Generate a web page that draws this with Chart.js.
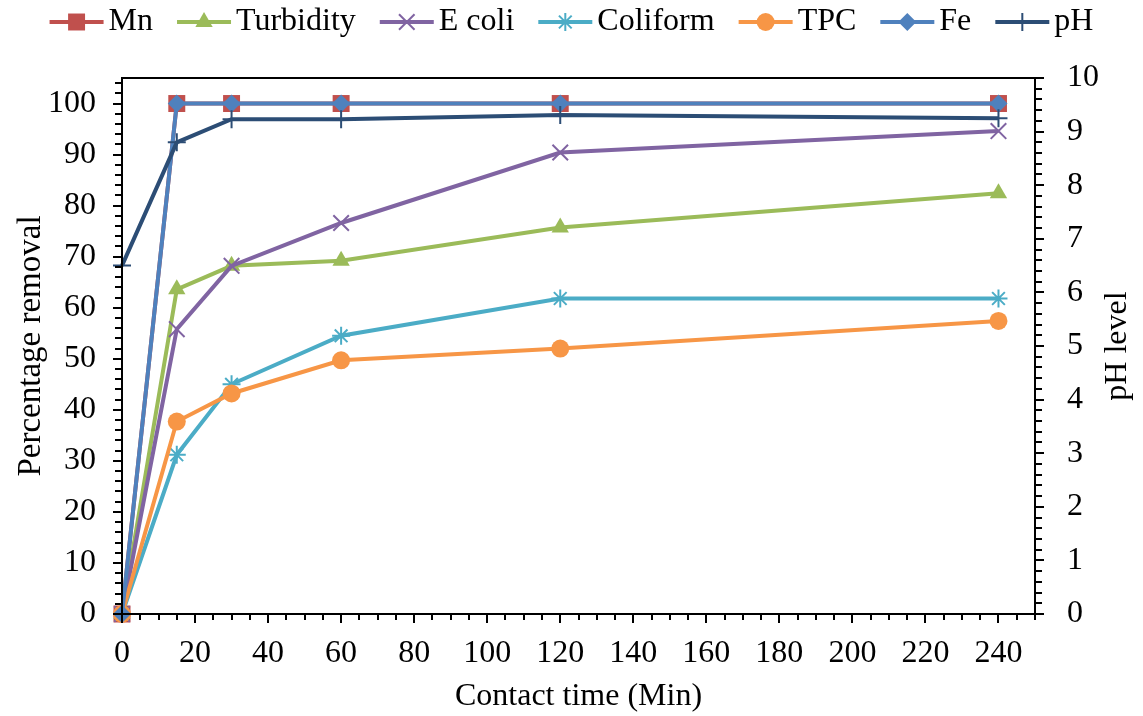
<!DOCTYPE html>
<html>
<head>
<meta charset="utf-8">
<script src="https://cdn.jsdelivr.net/npm/chart.js@4.4.1/dist/chart.umd.min.js"></script>
<style>
  html, body { margin: 0; padding: 0; background: #fff; }
  #wrap { width: 1143px; height: 716px; }
</style>
</head>
<body>
<div id="wrap"><canvas id="chart"></canvas></div>
<script>
// contact time (min) and percentage removal per parameter
const contactTime = [0, 15, 30, 60, 120, 240];
const mn = [0, 100, 100, 100, 100, 100];
const turbidity = [0, 63.6, 68.2, 69.2, 75.7, 82.4];
const eColi = [0, 55.8, 68.2, 76.6, 90.4, 94.6];
const coliform = [0, 31.2, 45.0, 54.5, 61.8, 61.8];
const tpc = [0, 37.7, 43.2, 49.7, 52.0, 57.4];
const fe = [0, 100, 100, 100, 100, 100];
// pH on the right axis
const ph = [6.5, 8.8, 9.23, 9.23, 9.31, 9.25];

// tick labels
const xTicks = [0, 20, 40, 60, 80, 100, 120, 140, 160, 180, 200, 220, 240];
const yTicks = [0, 10, 20, 30, 40, 50, 60, 70, 80, 90, 100];
const y2Ticks = [0, 1, 2, 3, 4, 5, 6, 7, 8, 9, 10];

const xTitle = 'Contact time (Min)';
const yTitle = 'Percentage removal';
const y2Title = 'pH level';

const FONT = 'Liberation Serif';
const FS = 32;

const toPoints = vals => vals.map((v, i) => ({ x: contactTime[i], y: v }));

function series(label, vals, color, style, radius, order, axis) {
    return {
        label: label,
        data: toPoints(vals),
        borderColor: color,
        backgroundColor: color,
        pointBackgroundColor: color,
        pointBorderColor: color,
        pointStyle: style,
        pointRadius: radius,
        pointHoverRadius: radius,
        pointBorderWidth: (style === 'cross' || style === 'crossRot' || style === 'star') ? 2 : 0,
        borderWidth: 4,
        tension: 0,
        fill: false,
        clip: false,
        order: order,
        yAxisID: axis || 'y'
    };
}

const datasets = [
    series('Mn', mn, '#C0504D', 'rect', 12, 7),
    series('Turbidity', turbidity, '#9BBB59', 'triangle', 10, 6),
    series('E coli', eColi, '#8064A2', 'crossRot', 11, 5),
    series('Coliform', coliform, '#4BACC6', 'star', 9, 4),
    series('TPC', tpc, '#F79646', 'circle', 9, 3),
    series('Fe', fe, '#4F81BD', 'rectRot', 9, 2),
    series('pH', ph, '#2C4D75', 'cross', 9, 1, 'y1')
];

// frame, tick marks outside the plot box, right-hand title
const frameTicks = {
    id: 'frameTicks',
    afterDraw(chart) {
        const ctx = chart.ctx;
        const a = chart.chartArea;
        const sx = chart.scales.x, sy = chart.scales.y, sy1 = chart.scales.y1;
        ctx.save();
        ctx.strokeStyle = '#000';
        ctx.lineWidth = 2;
        ctx.strokeRect(a.left, a.top, a.right - a.left, a.bottom - a.top);
        ctx.beginPath();
        for (let v = 0; v <= 250; v += 5) {
            const px = Math.round(sx.getPixelForValue(v));
            const len = v % 20 === 0 ? 9 : 6;
            ctx.moveTo(px, a.bottom);
            ctx.lineTo(px, a.bottom + len);
        }
        for (let v = 0; v <= 104; v += 2) {
            const py = Math.round(sy.getPixelForValue(v));
            const len = v % 10 === 0 ? 9 : 7;
            ctx.moveTo(a.left, py);
            ctx.lineTo(a.left - len, py);
        }
        for (let k = 0; k <= 50; k++) {
            const py = Math.round(sy1.getPixelForValue(k / 5));
            const len = k % 5 === 0 ? 9 : 7;
            ctx.moveTo(a.right, py);
            ctx.lineTo(a.right + len, py);
        }
        ctx.stroke();

        ctx.translate(1118, (a.top + a.bottom) / 2);
        ctx.rotate(-Math.PI / 2);
        ctx.fillStyle = '#000';
        ctx.font = FS + 'px "' + FONT + '"';
        ctx.textAlign = 'center';
        ctx.textBaseline = 'middle';
        ctx.fillText(y2Title, 0, 0);
        ctx.restore();
    }
};

// legend: extra room under it, and line + marker in each swatch
const legendMarkers = {
    id: 'legendMarkers',
    beforeLayout(chart) {
        const lg = chart.legend;
        if (lg && !lg._patched) {
            const fit = lg.fit;
            lg.fit = function () { fit.call(this); this.height += 30; };
            lg._patched = true;
        }
    },
    afterDraw(chart) {
        const lg = chart.legend;
        if (!lg || !lg.legendHitBoxes) return;
        const ctx = chart.ctx;
        lg.legendItems.forEach((item, i) => {
            const box = lg.legendHitBoxes[i];
            const ds = chart.data.datasets[item.datasetIndex];
            const cy = box.top + box.height / 2;
            const x0 = box.left, x1 = box.left + 54;
            ctx.save();
            ctx.strokeStyle = ds.borderColor;
            ctx.fillStyle = ds.borderColor;
            ctx.lineWidth = 4;
            ctx.beginPath();
            ctx.moveTo(x0, cy);
            ctx.lineTo(x1, cy);
            ctx.stroke();
            ctx.lineWidth = ds.pointBorderWidth || 1;
            Chart.helpers.drawPoint(ctx, {
                pointStyle: ds.pointStyle,
                radius: ds.pointRadius,
                rotation: 0,
                borderWidth: ds.pointBorderWidth
            }, (x0 + x1) / 2, cy);
            ctx.restore();
        });
    }
};

const fixedTicks = vals => s => { s.ticks = vals.map(v => ({ value: v })); };

new Chart(document.getElementById('chart'), {
    type: 'line',
    data: { datasets: datasets },
    options: {
        responsive: true,
        maintainAspectRatio: false,
        animation: false,
        layout: { padding: { top: -18, left: 0, right: 0, bottom: 0 } },
        plugins: {
            tooltip: { enabled: false },
            legend: {
                position: 'top',
                labels: {
                    font: { family: FONT, size: FS },
                    color: '#000',
                    boxWidth: 43,
                    boxHeight: 6,
                    padding: 24,
                    sort: (a, b) => a.datasetIndex - b.datasetIndex,
                    generateLabels(chart) {
                        const items = Chart.defaults.plugins.legend.labels.generateLabels(chart);
                        items.forEach(it => {
                            it.fillStyle = 'rgba(0,0,0,0)';
                            it.strokeStyle = 'rgba(0,0,0,0)';
                            it.lineWidth = 0;
                        });
                        return items;
                    }
                }
            }
        },
        scales: {
            x: {
                type: 'linear',
                position: 'bottom',
                min: 0,
                max: 250,
                grid: { display: false, drawTicks: false },
                border: { display: true, color: '#000', width: 2 },
                ticks: { color: '#000', font: { family: FONT, size: FS }, padding: 20, maxRotation: 0, autoSkip: false },
                afterBuildTicks: fixedTicks(xTicks),
                afterFit: s => { s.height = 102; },
                title: { display: true, text: xTitle, color: '#000', font: { family: FONT, size: FS }, padding: { top: 0, bottom: 0 } }
            },
            y: {
                type: 'linear',
                position: 'left',
                min: 0,
                max: 105,
                grid: { display: false, drawTicks: false },
                border: { display: true, color: '#000', width: 2 },
                ticks: { color: '#000', font: { family: FONT, size: FS }, padding: 26, autoSkip: false },
                afterBuildTicks: fixedTicks(yTicks),
                afterFit: s => { s.width = 122; },
                title: { display: true, text: yTitle, color: '#000', font: { family: FONT, size: 33 }, padding: { top: 12, bottom: 0 } }
            },
            y1: {
                type: 'linear',
                position: 'right',
                min: 0,
                max: 10,
                grid: { display: false, drawTicks: false },
                border: { display: true, color: '#000', width: 2 },
                ticks: { color: '#000', font: { family: FONT, size: FS }, padding: 32, autoSkip: false },
                afterBuildTicks: fixedTicks(y2Ticks),
                afterFit: s => { s.width = 108; }
            }
        }
    },
    plugins: [frameTicks, legendMarkers]
});
</script>
</body>
</html>
